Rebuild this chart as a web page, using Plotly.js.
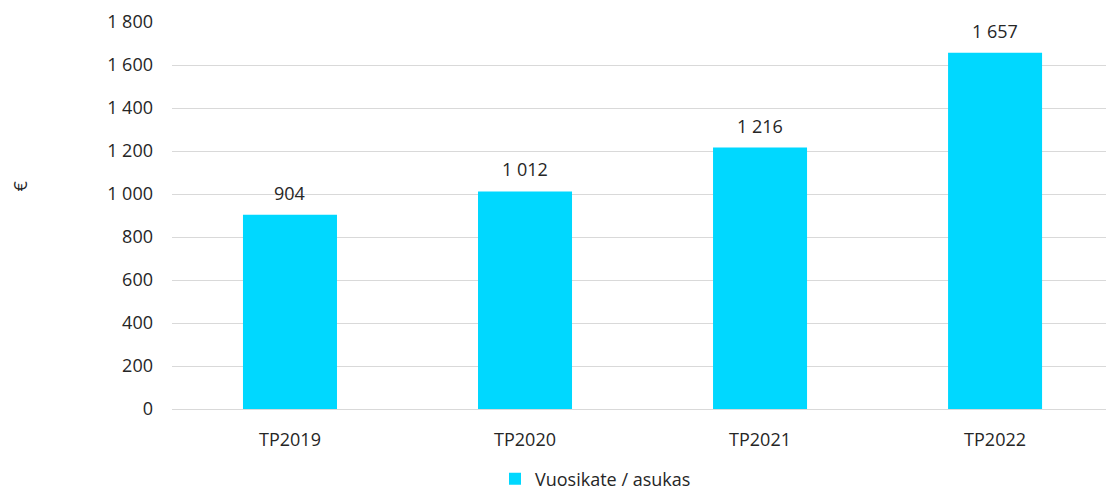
<!DOCTYPE html>
<html>
<head>
<meta charset="utf-8">
<script src="https://cdn.plot.ly/plotly-3.0.1.min.js"></script>
<style>html,body{margin:0;padding:0;background:#fff;}#chart{width:1106px;height:495px;}</style>
</head>
<body>
<div id="chart"></div>
<script>
const categories = ["TP2019", "TP2020", "TP2021", "TP2022"];
const values = [904, 1012, 1216, 1657];
const seriesName = "Vuosikate / asukas";
const yTitle = "€";

const fmt = v => String(v).replace(/\B(?=(\d{3})+(?!\d))/g, " ");
const FONT = "Open Sans, Noto Sans, sans-serif";
const FS = 18;
const TXT = "#262626";

const trace = {
  type: "bar",
  x: categories,
  y: values,
  name: seriesName,
  marker: {color: "#00D8FF"},
  width: 0.4,
  showlegend: true,
  hoverinfo: "none"
};

const labelAnns = categories.map((c, i) => ({
  x: c, y: values[i], xref: "x", yref: "y",
  text: fmt(values[i]), showarrow: false,
  yanchor: "middle", xanchor: "center", yshift: 22,
  font: {family: FONT, size: FS, color: TXT}
}));

const layout = {
  width: 1106, height: 495,
  margin: {l: 172, r: 0, t: 22, b: 86, autoexpand: false},
  paper_bgcolor: "#fff", plot_bgcolor: "#fff",
  separators: ", ",
  font: {family: FONT, size: FS, color: TXT},
  xaxis: {
    type: "category",
    range: [-0.502, 3.472],
    showgrid: false,
    showline: true, linecolor: "#d9d9d9", linewidth: 1,
    ticks: "", ticklabelstandoff: 14,
    tickfont: {size: FS, color: TXT}
  },
  yaxis: {
    range: [0, 1800],
    dtick: 200,
    tickformat: ",d",
    showgrid: true, gridcolor: "#d9d9d9", gridwidth: 1,
    zeroline: false, showline: false,
    ticks: "", ticklabelstandoff: 18,
    tickfont: {size: FS, color: TXT}
  },
  showlegend: true,
  legend: {
    orientation: "h", xref: "container", x: 495 / 1106, xanchor: "left",
    yref: "container", y: (495 - 479) / 495, yanchor: "middle",
    font: {size: FS, color: TXT}
  },
  annotations: [{
    text: yTitle, textangle: -90,
    xref: "paper", yref: "paper", x: -0.163, xanchor: "center",
    y: 0.577, yanchor: "middle", showarrow: false,
    font: {size: FS, color: TXT}
  }].concat(labelAnns),
  bargap: 0.6
};

Plotly.newPlot("chart", [trace], layout, {displayModeBar: false, staticPlot: true});
</script>
</body>
</html>
